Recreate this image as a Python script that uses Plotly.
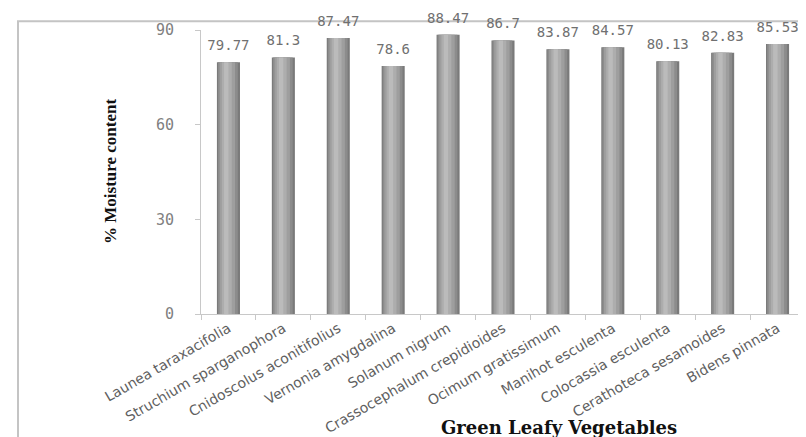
import plotly.graph_objects as go

vegetables = [
    "Launea taraxacifolia",
    "Struchium sparganophora",
    "Cnidoscolus aconitifolius",
    "Vernonia amygdalina",
    "Solanum nigrum",
    "Crassocephalum crepidioides",
    "Ocimum gratissimum",
    "Manihot esculenta",
    "Colocassia esculenta",
    "Cerathoteca sesamoides",
    "Bidens pinnata",
]
moisture = [79.77, 81.3, 87.47, 78.6, 88.47, 86.7, 83.87, 84.57, 80.13, 82.83, 85.53]
y_ticks = [0, 30, 60, 90]

fig = go.Figure()

# layered bars to imitate the shaded cylinder look
layers = [
    (0.42, "#7a7a7a", 0.0),
    (0.36, "#8c8c8c", -0.01),
    (0.28, "#9e9e9e", -0.02),
    (0.18, "#adadad", -0.03),
    (0.08, "#bbbbbb", -0.04),
]
for w, col, shift in layers:
    fig.add_trace(go.Bar(
        x=vegetables,
        y=moisture,
        width=w,
        offset=-w / 2 + shift,
        marker=dict(color=col, line=dict(width=0)),
        showlegend=False,
        hoverinfo="x+y",
    ))

# value labels sitting just above each cylinder
fig.add_trace(go.Scatter(
    x=vegetables,
    y=moisture,
    mode="markers+text",
    marker=dict(size=12, opacity=0),
    text=[f"{v:g}" for v in moisture],
    textposition="top center",
    textfont=dict(family="DejaVu Sans Mono", size=14, color="#707070"),
    cliponaxis=False,
    showlegend=False,
    hoverinfo="skip",
))

fig.update_layout(
    width=806,
    height=437,
    margin=dict(l=193, r=9, t=22, b=125),
    paper_bgcolor="white",
    plot_bgcolor="white",
    barmode="overlay",
    xaxis=dict(
        range=[-0.5, len(vegetables) - 0.5],
        showline=True,
        linecolor="#c8c8c8",
        linewidth=1,
        ticks="outside",
        tickson="boundaries",
        ticklen=5,
        tickcolor="#c8c8c8",
        tickangle=-30,
        tickfont=dict(family="DejaVu Sans", size=14, color="#606060"),
        showgrid=False,
        zeroline=False,
    ),
    yaxis=dict(
        range=[0, 90],
        tickvals=y_ticks,
        showline=True,
        linecolor="#c8c8c8",
        linewidth=1,
        ticks="outside",
        ticklen=5,
        tickcolor="#c8c8c8",
        ticklabelstandoff=18,
        tickfont=dict(family="DejaVu Sans Mono", size=15, color="#808080"),
        showgrid=False,
        zeroline=False,
    ),
    annotations=[
        dict(
            text="% Moisture content",
            xref="paper", yref="paper",
            x=(102 - 193) / 604, y=0.5,
            xanchor="center", yanchor="middle",
            textangle=-90,
            showarrow=False,
            font=dict(family="Liberation Serif", size=17, color="#111111", weight="bold"),
        ),
        dict(
            text="Green Leafy Vegetables",
            xref="paper", yref="paper",
            x=(551 - 193) / 604, y=-(428 - 312) / 290,
            xanchor="center", yanchor="middle",
            showarrow=False,
            font=dict(family="DejaVu Serif", size=18, color="#111111", weight="bold"),
        ),
    ],
    shapes=[
        dict(
            type="rect",
            xref="paper", yref="paper",
            x0=(10 - 193) / 604, x1=(803 - 193) / 604,
            y0=-(445 - 312) / 290, y1=1 + (22 - 13) / 290,
            line=dict(color="#c4c4c4", width=2),
            fillcolor="rgba(0,0,0,0)",
            layer="below",
        )
    ],
)

fig.write_html("out.html")
